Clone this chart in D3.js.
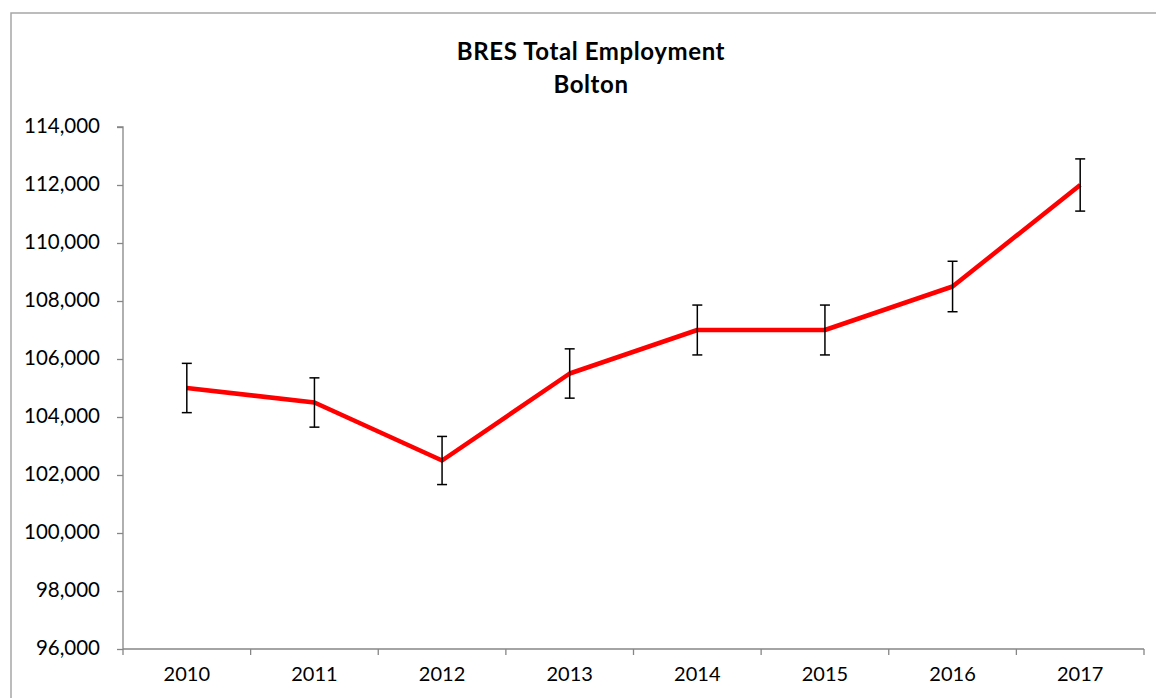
<!DOCTYPE html>
<html><head><meta charset="utf-8">
<script src="https://cdn.jsdelivr.net/npm/d3@7"></script>
<style>body{margin:0;background:#fff}svg{display:block}</style>
</head><body>
<svg id="c" width="1156" height="698"></svg>
<script>
const years = ["2010","2011","2012","2013","2014","2015","2016","2017"];
const employment = [105000,104500,102500,105500,107000,107000,108500,112000];
const errorAmount = [850,850,830,850,860,860,870,900];
const yTicks = [96000,98000,100000,102000,104000,106000,108000,110000,112000,114000];
const titleLines = ["BRES Total Employment","Bolton"];

const svg = d3.select("#c");
const font = "Lato, 'Open Sans', sans-serif";
const L=123, R=1144, T=127, B=649;

svg.append("rect").attr("x",11).attr("y",13).attr("width",1200).attr("height",720)
  .attr("fill","none").attr("stroke","#a6a6a6").attr("stroke-width",1.5);

const x = d3.scaleBand().domain(years).range([L,R]).padding(0);
const y = d3.scaleLinear().domain([96000,114000]).range([B,T]);

// y axis
const ya = svg.append("g").attr("transform",`translate(${L},0)`)
  .call(d3.axisLeft(y).tickValues(yTicks).tickSize(6).tickPadding(17).tickFormat(d3.format(",")));
ya.select(".domain").attr("stroke","#868686").attr("stroke-width",1.3).attr("d",`M-6,${T}H0V${B}`);
ya.selectAll(".tick line").attr("stroke","#868686").attr("stroke-width",1.3);
ya.selectAll("text").attr("font-family",font).attr("font-size",20.5).attr("fill","#000").attr("dy","0.28em");

// x axis
const xa = svg.append("g").attr("transform",`translate(0,${B})`)
  .call(d3.axisBottom(x).tickSize(0).tickPadding(18));
xa.select(".domain").attr("stroke","#868686").attr("stroke-width",1.3).attr("d",`M${L},0H${R}`);
xa.selectAll("text").attr("font-family",font).attr("font-size",20).attr("fill","#000");
const bounds = years.map(d=>x(d)).concat([x(years[years.length-1])+x.bandwidth()]);
svg.append("g").selectAll("line").data(bounds).join("line")
  .attr("x1",d=>d).attr("x2",d=>d).attr("y1",B).attr("y2",B+6)
  .attr("stroke","#868686").attr("stroke-width",1.3);

const cx = d=>x(d)+x.bandwidth()/2;

// line
const data = years.map((d,i)=>({year:d,v:employment[i],e:errorAmount[i]}));
svg.append("path").datum(data)
  .attr("d",d3.line().x(d=>cx(d.year)).y(d=>y(d.v)))
  .attr("fill","none").attr("stroke","#ff0000").attr("stroke-width",4.5).attr("stroke-linejoin","round");

// error bars
const eb = svg.append("g").attr("stroke","#000").attr("stroke-width",1.5);
data.forEach(d=>{
  const X=cx(d.year), y1=y(d.v+d.e), y2=y(d.v-d.e);
  eb.append("line").attr("x1",X).attr("x2",X).attr("y1",y1).attr("y2",y2);
  eb.append("line").attr("x1",X-5).attr("x2",X+5).attr("y1",y1).attr("y2",y1);
  eb.append("line").attr("x1",X-5).attr("x2",X+5).attr("y1",y2).attr("y2",y2);
});

// title
svg.append("g").selectAll("text").data(titleLines).join("text")
  .attr("x",591).attr("y",(d,i)=>60+i*33).attr("text-anchor","middle")
  .attr("font-family",font).attr("font-weight","bold").attr("font-size",24)
  .attr("letter-spacing",0.6).text(d=>d);
</script>
</body></html>
